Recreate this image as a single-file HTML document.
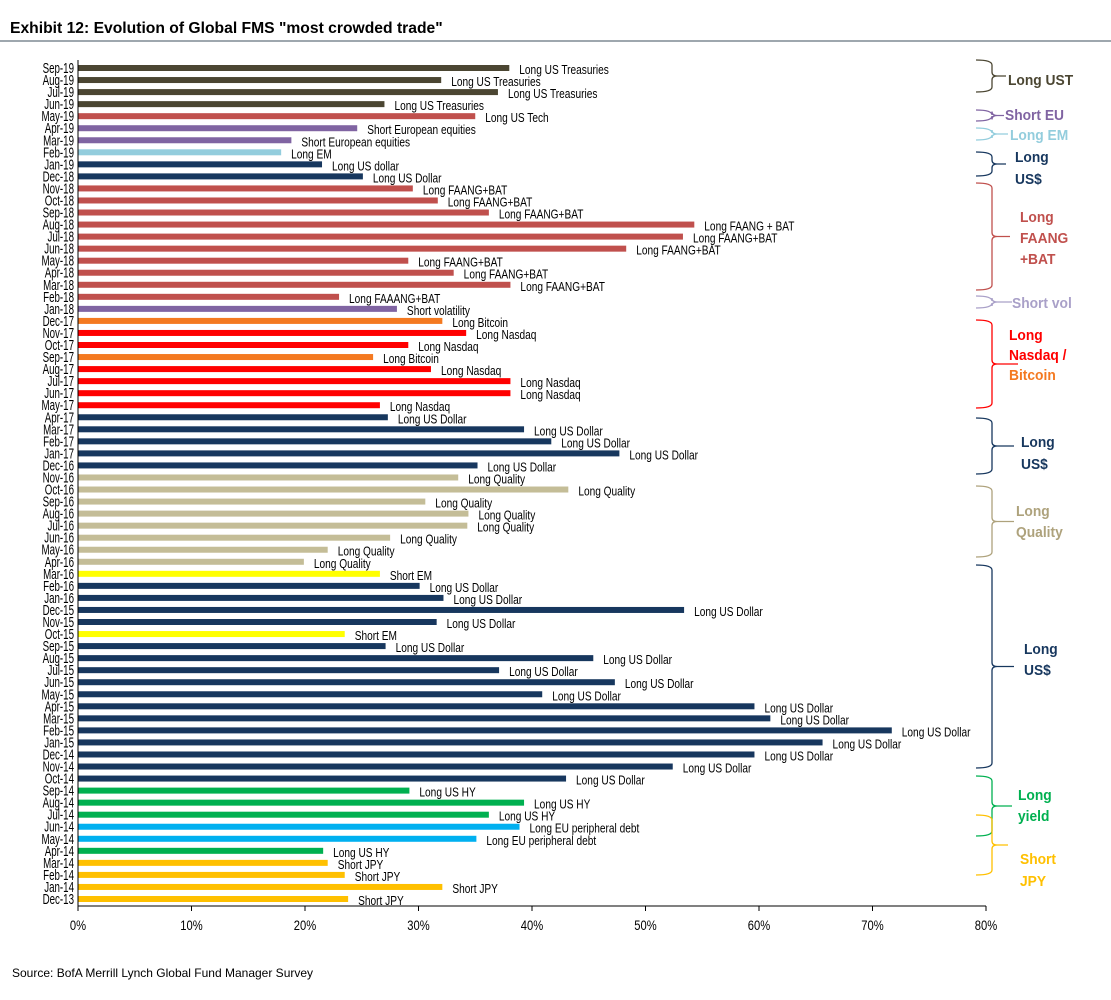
<!DOCTYPE html>
<html><head><meta charset="utf-8"><style>
html,body{margin:0;padding:0;background:#fff;}
svg{display:block;font-family:"Liberation Sans Narrow","Liberation Sans",sans-serif;}
</style></head><body>
<svg id="c" width="1111" height="1000" viewBox="0 0 1111 1000">
<text x="10" y="33" font-family="Liberation Sans, sans-serif" font-weight="bold" font-size="16" fill="#000" transform="translate(10,0) scale(0.98,1) translate(-10,0)">Exhibit 12: Evolution of Global FMS "most crowded trade"</text>
<line x1="0" y1="41" x2="1111" y2="41" stroke="#7f8a94" stroke-width="1.5"/>
<text x="12" y="977" font-family="Liberation Sans, sans-serif" font-size="12" fill="#000">Source: BofA Merrill Lynch Global Fund Manager Survey</text>
<g id="bars"></g>
<g id="axes"></g>
<g id="braces"></g>
</svg>
<script>
const months = ["Sep-19","Aug-19","Jul-19","Jun-19","May-19","Apr-19","Mar-19","Feb-19","Jan-19","Dec-18","Nov-18","Oct-18","Sep-18","Aug-18","Jul-18","Jun-18","May-18","Apr-18","Mar-18","Feb-18","Jan-18","Dec-17","Nov-17","Oct-17","Sep-17","Aug-17","Jul-17","Jun-17","May-17","Apr-17","Mar-17","Feb-17","Jan-17","Dec-16","Nov-16","Oct-16","Sep-16","Aug-16","Jul-16","Jun-16","May-16","Apr-16","Mar-16","Feb-16","Jan-16","Dec-15","Nov-15","Oct-15","Sep-15","Aug-15","Jul-15","Jun-15","May-15","Apr-15","Mar-15","Feb-15","Jan-15","Dec-14","Nov-14","Oct-14","Sep-14","Aug-14","Jul-14","Jun-14","May-14","Apr-14","Mar-14","Feb-14","Jan-14","Dec-13"];
const values = [38,32,37,27,35,24.6,18.8,17.9,21.5,25.1,29.5,31.7,36.2,54.3,53.3,48.3,29.1,33.1,38.1,23,28.1,32.1,34.2,29.1,26,31.1,38.1,38.1,26.6,27.3,39.3,41.7,47.7,35.2,33.5,43.2,30.6,34.4,34.3,27.5,22,19.9,26.6,30.1,32.2,53.4,31.6,23.5,27.1,45.4,37.1,47.3,40.9,59.6,61,71.7,65.6,59.6,52.4,43,29.2,39.3,36.2,38.9,35.1,21.6,22,23.5,32.1,23.8];
const labels = ["Long  US Treasuries","Long  US Treasuries","Long  US Treasuries","Long  US Treasuries","Long  US Tech","Short European  equities","Short European  equities","Long  EM","Long  US dollar","Long  US Dollar","Long  FAANG+BAT","Long  FAANG+BAT","Long  FAANG+BAT","Long  FAANG + BAT","Long  FAANG+BAT","Long  FAANG+BAT","Long  FAANG+BAT","Long  FAANG+BAT","Long  FAANG+BAT","Long  FAAANG+BAT","Short  volatility","Long  Bitcoin","Long  Nasdaq","Long  Nasdaq","Long  Bitcoin","Long  Nasdaq","Long  Nasdaq","Long  Nasdaq","Long  Nasdaq","Long  US Dollar","Long  US Dollar","Long  US Dollar","Long  US Dollar","Long  US Dollar","Long  Quality","Long  Quality","Long  Quality","Long  Quality","Long  Quality","Long  Quality","Long  Quality","Long  Quality","Short EM","Long  US Dollar","Long  US Dollar","Long  US Dollar","Long  US Dollar","Short EM","Long  US Dollar","Long  US Dollar","Long  US Dollar","Long  US Dollar","Long  US Dollar","Long  US Dollar","Long  US Dollar","Long  US Dollar","Long  US Dollar","Long  US Dollar","Long  US Dollar","Long  US Dollar","Long  US HY","Long  US HY","Long  US HY","Long  EU peripheral  debt","Long  EU peripheral  debt","Long  US HY","Short JPY","Short JPY","Short JPY","Short JPY"];
const themes = ["ust","ust","ust","ust","tech","eu","eu","em","usd","usd","tech","tech","tech","tech","tech","tech","tech","tech","tech","tech","vol","btc","ndx","ndx","btc","ndx","ndx","ndx","ndx","usd","usd","usd","usd","usd","qual","qual","qual","qual","qual","qual","qual","qual","sem","usd","usd","usd","usd","sem","usd","usd","usd","usd","usd","usd","usd","usd","usd","usd","usd","usd","hy","hy","hy","eup","eup","hy","jpy","jpy","jpy","jpy"];
const xTicks = [0,10,20,30,40,50,60,70,80];

const colorOf = {ust:"#4b4632",tech:"#c0504d",eu:"#8064a2",em:"#93cddd",usd:"#17375e",vol:"#8064a2",btc:"#f47920",ndx:"#ff0000",qual:"#c4bd97",sem:"#ffff00",hy:"#00b050",eup:"#00b0f0",jpy:"#ffc000"};
const NS="http://www.w3.org/2000/svg";
const X0=78, X1=986, Y0=68, Y1=899;
const xs=v=>X0+(v/80)*(X1-X0);
const ys=i=>Y0+i*(Y1-Y0)/(months.length-1);
function mk(t,a,p){const e=document.createElementNS(NS,t);for(const k in a)e.setAttribute(k,a[k]);p.appendChild(e);return e;}
const bars=document.getElementById('bars'), axes=document.getElementById('axes');
values.forEach((v,i)=>{
  const y=ys(i);
  const r=mk('rect',{x:X0,y:y-3,width:xs(v)-X0,height:6,fill:colorOf[themes[i]]},bars);
  
  
  const t=mk('text',{x:0,y:0,'font-size':13,fill:'#000',transform:`translate(${xs(v)+10},${y+6}) scale(0.78,1)`},bars);
  t.textContent=labels[i];
  
  
  const m=mk('text',{x:0,y:0,'font-size':13,'text-anchor':'end',fill:'#000',transform:`translate(74,${y+5}) scale(0.75,1.1)`},axes);
  m.textContent=months[i];
  
  
});
const ya=mk('line',{x1:X0,y1:60,x2:X0,y2:906,stroke:'#000','stroke-width':1},axes);


const xa=mk('line',{x1:X0,y1:906,x2:X1,y2:906,stroke:'#000','stroke-width':1},axes);


xTicks.forEach(v=>{
  const tk=mk('line',{x1:xs(v),y1:906,x2:xs(v),y2:911,stroke:'#000'},axes);
  
  
  const tl=mk('text',{x:0,y:0,'font-size':14,'text-anchor':'middle',fill:'#000',transform:`translate(${xs(v)},930) scale(0.8,1)`},axes);
  tl.textContent=v+'%';
  
  
});
const braceGroups=[
 {top:60,bot:92,lines:["Long UST"],col:"#4b4632",lx:1008,ly:[85],tail:1006},
 {top:110,bot:121,lines:["Short EU"],col:"#8064a2",lx:1005,ly:[120],tail:1004},
 {top:128,bot:140,lines:["Long EM"],col:"#93cddd",lx:1010,ly:[140],tail:1008},
 {top:152,bot:176,lines:["Long","US$"],col:"#17375e",lx:1015,ly:[162,184],tail:1006},
 {top:183,bot:290,lines:["Long","FAANG","+BAT"],col:"#c0504d",lx:1020,ly:[222,243,264],tail:1010},
 {top:296,bot:308,lines:["Short vol"],col:"#a9a0c8",lx:1012,ly:[308],tail:1012},
 {top:320,bot:408,lines:["Long","Nasdaq /","Bitcoin"],col:"#ff0000",lx:1009,ly:[340,360,380],tail:1018},
 {top:418,bot:474,lines:["Long","US$"],col:"#17375e",lx:1021,ly:[447,469],tail:1014},
 {top:486,bot:557,lines:["Long","Quality"],col:"#aea27c",lx:1016,ly:[516,537],tail:1014},
 {top:565,bot:768,lines:["Long","US$"],col:"#17375e",lx:1024,ly:[654,675],tail:1014},
 {top:776,bot:836,lines:["Long","yield"],col:"#00b050",lx:1018,ly:[800,821],tail:1012},
 {top:815,bot:875,lines:["Short","JPY"],col:"#ffc000",lx:1020,ly:[864,886],tail:1008}
];
const bg=document.getElementById('braces');
braceGroups.forEach((g,k)=>{
  const m=(g.top+g.bot)/2, x0=976, x1=992;
  const d=`M${x0},${g.top} Q${x1},${g.top} ${x1},${g.top+5} L${x1},${m-4} Q${x1},${m} ${x1+5},${m} L${g.tail},${m} M${x1+5},${m} Q${x1},${m} ${x1},${m+4} L${x1},${g.bot-5} Q${x1},${g.bot} ${x0},${g.bot}`;
  const p=mk('path',{d:d,fill:'none',stroke:g.col,'stroke-width':1.3},bg);
  
  
  g.lines.forEach((s,j)=>{
    const col=(s==="Bitcoin")?"#f47920":g.col;
    const t=mk('text',{x:0,y:0,'font-size':15,'font-weight':'bold','font-family':'Liberation Sans, sans-serif',fill:col,transform:`translate(${g.lx},${g.ly[j]}) scale(0.92,1)`},bg);
    t.textContent=s;
    
    
  });
});
</script>
</body></html>
